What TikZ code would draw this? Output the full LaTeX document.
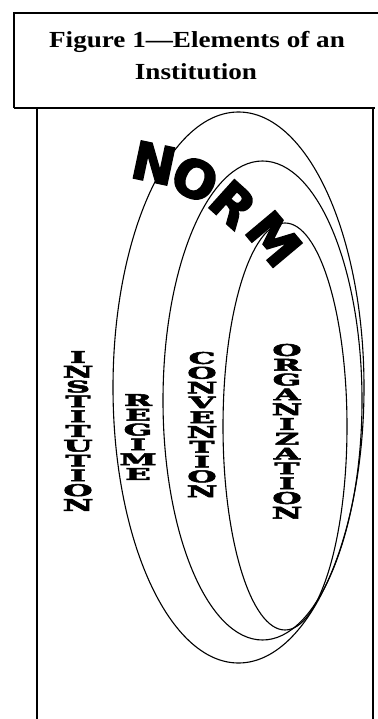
\documentclass[tikz,border=0pt]{standalone}
\usepackage{fontspec}
\setmainfont{Liberation Serif}
\newfontfamily\normfont[FakeBold=3]{DejaVu Sans Bold}
\newfontfamily\stackfont[FakeBold=3]{DejaVu Serif Bold}
\newcommand{\widen}[1]{\scalebox{2.1}[1]{#1}}
\newcommand{\stretchx}[1]{\scalebox{1.18}[1]{#1}}

\begin{document}
\begin{tikzpicture}[x=1pt,y=-1pt,
  frame/.style={line width=1.3pt},
  ring/.style={line width=1.1pt},
  titletext/.style={font=\bfseries\fontsize{23}{26}\selectfont, anchor=base, inner sep=0pt},
  normletter/.style={font=\normfont\fontsize{52}{52}\selectfont, inner sep=0pt},
  stackletter/.style={font=\stackfont\fontsize{16}{16}\selectfont, inner sep=0pt}]
\useasboundingbox (0,0) rectangle (377,719);

% Column positions and letter pitch
\def\colinst{78}
\def\colreg{138}
\def\colconv{202}
\def\colorg{287}
\def\pitch{14.8}

% Title box (runs off to the right)
\draw[frame] (14,108) -- (14,13) -- (380,13);
\draw[frame] (14,108) -- (37,108);
\node[titletext] (title1) at (197,48) {\stretchx{Figure 1---Elements of an}};
\node[titletext] (title2) at (196,79.5) {\stretchx{Institution}};

% Lower box
\draw[frame] (37,108) -- (37,722);
\draw[frame] (373,108) -- (373,722);
\draw[line width=2.4pt] (37,108) -- (375,108);

% Nested rings
\draw[ring] (238.5,387.5) ellipse [x radius=125.5pt, y radius=275.5pt];
\draw[ring] (262.5,400.5) ellipse [x radius=99.5pt, y radius=239.5pt];
\draw[ring] (285,426.5) ellipse [x radius=62pt, y radius=203.5pt];

% NORM along the top of the outer ring
\node[normletter, rotate=-12] (normN) at (154,163) {N};
\node[normletter, rotate=-25] (normO) at (195,179) {O};
\node[normletter, rotate=-42] (normR) at (233,204) {R};
\node[normletter, rotate=-50] (normM) at (274,239) {M};

% Stacked words
\foreach \ch [count=\i] in {I,N,S,T,I,T,U,T,I,O,N}
  \node[stackletter] (inst\i) at (\colinst,{357+(\i-1)*\pitch}) {\widen{\ch}};
\foreach \ch [count=\i] in {R,E,G,I,M,E}
  \node[stackletter] (reg\i) at (\colreg,{400+(\i-1)*\pitch}) {\widen{\ch}};
\foreach \ch [count=\i] in {C,O,N,V,E,N,T,I,O,N}
  \node[stackletter] (conv\i) at (\colconv,{358+(\i-1)*\pitch}) {\widen{\ch}};
\foreach \ch [count=\i] in {O,R,G,A,N,I,Z,A,T,I,O,N}
  \node[stackletter] (org\i) at (\colorg,{350+(\i-1)*\pitch}) {\widen{\ch}};
\end{tikzpicture}
\end{document}
